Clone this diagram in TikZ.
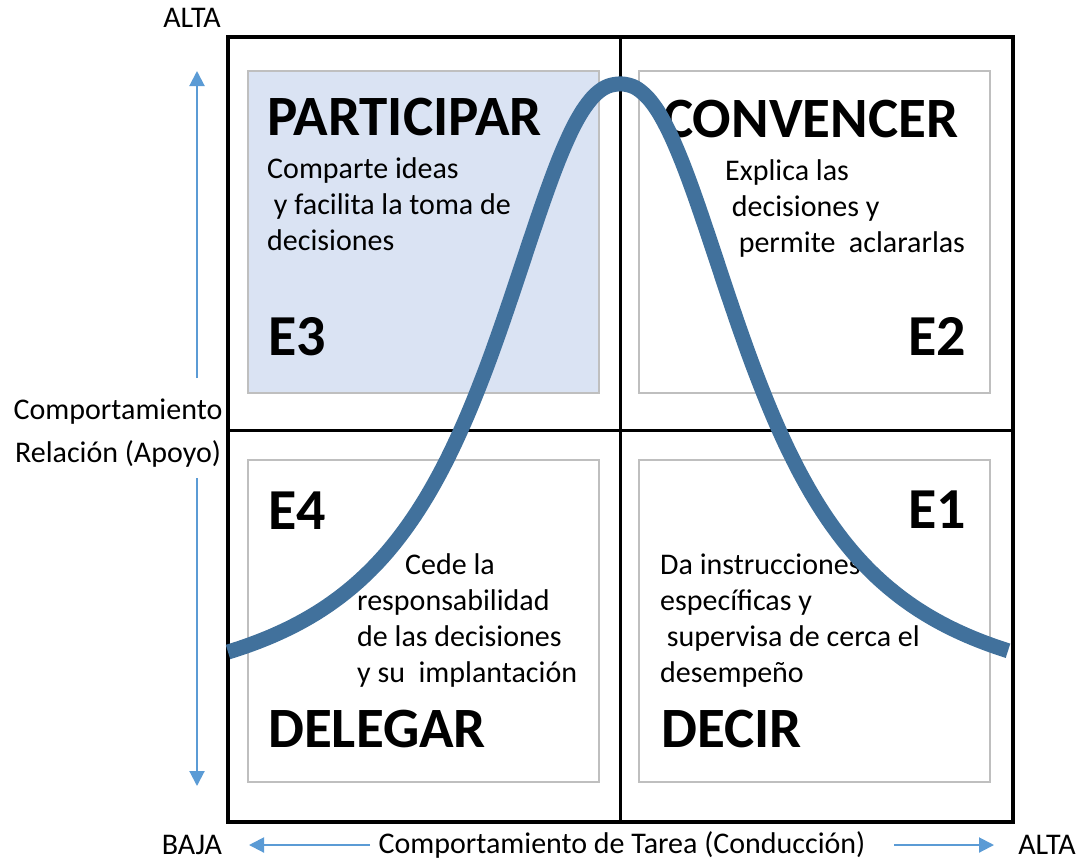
\documentclass[tikz,border=0pt]{standalone}
\usepackage{fontspec}
\setmainfont{Carlito}
\usetikzlibrary{arrows.meta}
\definecolor{curva}{HTML}{41719C}
\definecolor{flechas}{HTML}{5B9BD5}
\definecolor{relleno}{HTML}{DAE3F3}
\definecolor{borde}{HTML}{BFBFBF}

\begin{document}
\begin{tikzpicture}[x=1pt,y=-1pt,
  declare function={g(\d)=1/(1+(abs(\d)/145+0.0001)^2.3);},
  caja/.style={draw=borde, line width=2pt, minimum width=351pt, minimum height=322pt, inner sep=0pt},
  titulo/.style={font=\fontsize{57}{60}\selectfont\bfseries, inner sep=0pt, anchor=base west},
  nivel/.style={font=\fontsize{58}{60}\selectfont\bfseries, inner sep=0pt},
  texto/.style={font=\fontsize{30}{36}\selectfont, align=left, inner sep=0pt, anchor=base west},
  eje/.style={font=\fontsize{30}{43}\selectfont, inner sep=0pt},
  flecha/.style={draw=flechas, line width=2pt, -{Triangle[width=15pt,length=15pt]}}]
\useasboundingbox (0,0) rectangle (1083,860);
% %draw [help lines] grid
\coordinate (NO) at (228,37);
\coordinate (SE) at (1013,822);
\coordinate (arriba) at (620,37);
\coordinate (abajo) at (620,822);
\coordinate (izq) at (228,430);
\coordinate (der) at (1013,430);

\node[caja, fill=relleno] (C3) at (423.5,232) {};
\node[caja] (C2) at (814,232) {};
\node[caja] (C4) at (423.5,621) {};
\node[caja] (C1) at (814,621) {};

\draw[line width=4pt] (NO) rectangle (SE);
\draw[line width=3pt] (arriba) -- (abajo);
\draw[line width=3pt] (izq) -- (der);

\node[titulo] (participar) at (267,135) {PARTICIPAR};
\node[texto] (t3) at (267,250) {Comparte ideas\\ \ y facilita la toma de\\decisiones};
\node[nivel, anchor=base west] (E3) at (268,355) {E3};

\node[titulo] (convencer) at (663,137) {CONVENCER};
\node[texto] (t2) at (725,252) {Explica las\\ \ decisiones y\\ \ \ permite\ \ aclararlas};
\node[nivel, anchor=base east] (E2) at (966,355) {E2};

\node[nivel, anchor=base west] (E4) at (268,529) {E4};
\node[texto] (t4) at (357,682) {\hspace{48pt}Cede la\\responsabilidad\\de las decisiones\\y su\ \ implantación};
\node[titulo] (delegar) at (268,747) {DELEGAR};

\node[nivel, anchor=base east] (E1) at (966,528) {E1};
\node[texto] (t1) at (660,682) {Da instrucciones\\específicas y\\ \ supervisa de cerca el\\desempeño};
\node[titulo] (decir) at (661,747) {DECIR};

% curva
\draw[curva, line width=15pt] plot[domain=228:1008, samples=157, smooth]
  (\x, {652 - 568*(g(\x-620)-g(392))/(1-g(392))});

% ejes
\node[eje] (altaV) at (192,18) {ALTA};
\node[eje, align=center] (relacion) at (118,433) {Comportamiento\\Relación (Apoyo)};
\coordinate (relA) at (197,378);
\coordinate (relB) at (197,478);
\coordinate (relTop) at (197,71);
\coordinate (relBot) at (197,786);
\draw[flecha] (relA) -- (relTop);
\draw[flecha] (relB) -- (relBot);

\node[eje] (baja) at (192,845) {BAJA};
\node[eje] (tarea) at (622,845) {Comportamiento de Tarea (Conducción)};
\node[eje] (altaH) at (1047,845) {ALTA};
\coordinate (tarA) at (370,845);
\coordinate (tarB) at (894,845);
\coordinate (tarIzq) at (249,845);
\coordinate (tarDer) at (994,845);
\draw[flecha] (tarA) -- (tarIzq);
\draw[flecha] (tarB) -- (tarDer);
\end{tikzpicture}
\end{document}
